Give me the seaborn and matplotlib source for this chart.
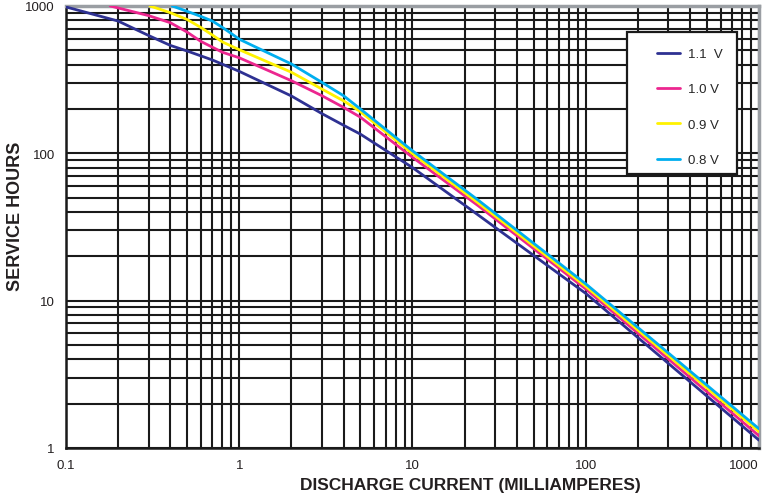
import numpy as np
import matplotlib.pyplot as plt
import matplotlib.patches as mpatches
from matplotlib.ticker import LogLocator, NullFormatter, FixedLocator
import seaborn as sns
import pandas as pd

# discharge current (mA) vs service hours, one curve per cut-off voltage
ma_11 = [0.1, 0.2, 0.3, 0.4, 0.5, 0.7, 1, 2, 3, 4, 5, 10, 22, 100, 1000]
hr_11 = [985, 790, 630, 540, 495, 430, 360, 245, 186, 155, 135, 80, 41, 11.2, 1.13]

ma_10 = [0.18, 0.3, 0.4, 0.5, 0.6, 0.7, 0.8, 1, 2, 3, 4, 5, 10, 24, 100, 1000]
hr_10 = [1000, 860, 770, 665, 575, 525, 485, 445, 311, 246, 205, 176, 94, 44, 12.0, 1.21]

ma_09 = [0.305, 0.4, 0.5, 0.6, 0.7, 0.8, 1, 2, 3, 4, 5, 10, 24, 100, 1000]
hr_09 = [1000, 900, 810, 715, 635, 570, 505, 355, 273, 227, 192, 99.5, 46, 12.5, 1.29]

ma_08 = [0.41, 0.5, 0.6, 0.7, 0.8, 0.9, 1, 1.25, 2, 3, 4, 5, 10, 24, 100, 1000]
hr_08 = [1000, 920, 850, 790, 715, 650, 595, 525, 404, 303, 246, 200, 104, 48, 13.0, 1.35]

labels = ['1.1  V', '1.0 V', '0.9 V', '0.8 V']
colors = ['#2e3192', '#ec268f', '#fff200', '#00aeef']

x_ticks = [0.1, 1, 10, 100, 1000]
x_ticklabels = ['0.1', '1', '10', '100', '1000']
y_ticks = [1, 10, 100, 1000]
y_ticklabels = ['1', '10', '100', '1000']

frames = []
for lab, xs, ys in zip(labels, [ma_11, ma_10, ma_09, ma_08], [hr_11, hr_10, hr_09, hr_08]):
    frames.append(pd.DataFrame({'current': xs, 'hours': ys, 'volt': lab}))
df = pd.concat(frames, ignore_index=True)

sns.set_style('white')
plt.rcParams['font.family'] = ['Liberation Sans', 'DejaVu Sans']

fig = plt.figure(figsize=(7.71, 5.02), dpi=100)
ax = fig.add_axes([0.0856, 0.1056, 0.8988, 0.8805])
ax.set_xscale('log')
ax.set_yscale('log')

sns.lineplot(data=df, x='current', y='hours', hue='volt', palette=colors,
             hue_order=labels, linewidth=2.0, errorbar=None, ax=ax, zorder=3)

ax.set_xlim(0.1, 1000)
ax.set_ylim(1, 1000)
ax.xaxis.set_major_locator(FixedLocator(x_ticks))
ax.set_xticklabels(x_ticklabels)
ax.yaxis.set_major_locator(FixedLocator(y_ticks))
ax.set_yticklabels(y_ticklabels)
ax.xaxis.set_minor_locator(LogLocator(base=10, subs=np.arange(2, 10)))
ax.yaxis.set_minor_locator(LogLocator(base=10, subs=np.arange(2, 10)))
ax.xaxis.set_minor_formatter(NullFormatter())
ax.yaxis.set_minor_formatter(NullFormatter())
# last label sits left of its tick, as in the original
ax.get_xticklabels()[-1].set_horizontalalignment('right')

ax.grid(True, which='both', color='#1a1a1a', linewidth=1.5, zorder=1)
ax.set_axisbelow(True)
ax.tick_params(which='both', length=0, labelsize=9.5, colors='#231f20')
ax.tick_params(axis='x', pad=8)
ax.tick_params(axis='y', pad=8)

for side in ['left', 'bottom']:
    ax.spines[side].set_color('#1a1a1a')
    ax.spines[side].set_linewidth(1.8)
for side in ['top', 'right']:
    ax.spines[side].set_color('#9a9ea3')
    ax.spines[side].set_linewidth(2.5)

ax.set_xlabel('DISCHARGE CURRENT (MILLIAMPERES)', fontsize=12.5, fontweight='bold',
              x=0.583, labelpad=4, color='#231f20')
ax.set_ylabel('SERVICE HOURS', fontsize=13, fontweight='bold', color='#231f20')
ax.yaxis.set_label_coords(-0.061, 0.527)

# legend box
box = mpatches.Rectangle((0.809, 0.62), 0.159, 0.3205, transform=ax.transAxes,
                         facecolor='white', edgecolor='#1a1a1a', linewidth=1.6, zorder=4)
ax.add_patch(box)
handles, labs = ax.get_legend_handles_labels()
for h in handles:
    h.set_linewidth(2.0)
leg = ax.legend(handles, labs, loc='upper left', bbox_to_anchor=(0.8427, 0.92),
                frameon=False, fontsize=9.5, borderpad=0, handlelength=1.75,
                handletextpad=0.6, labelspacing=1.75)
leg.set_zorder(5)

fig.savefig('out.png', dpi=100)
